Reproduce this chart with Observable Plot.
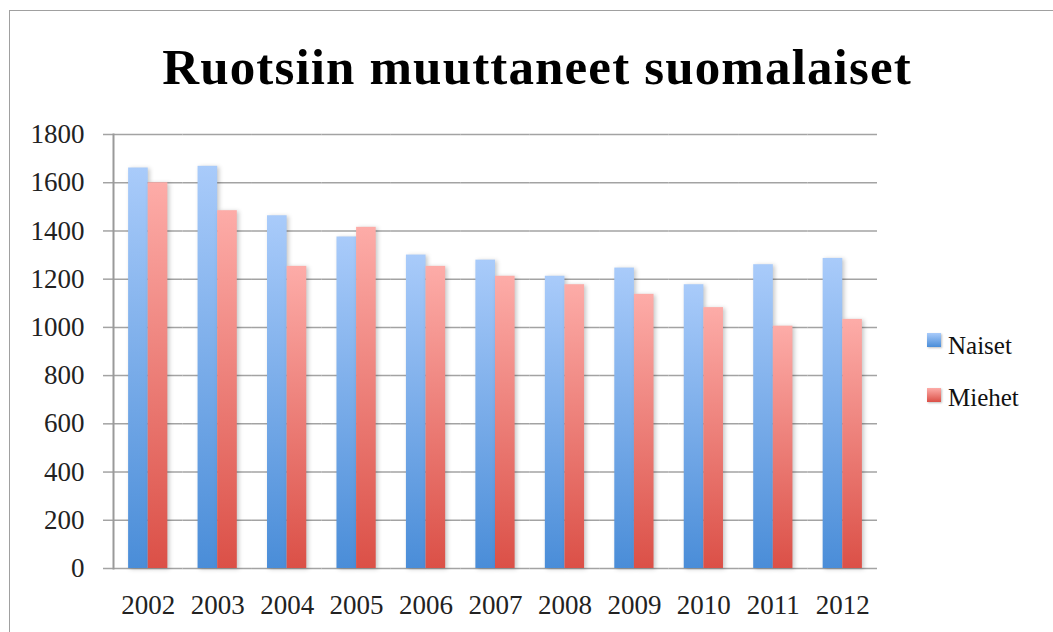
<!DOCTYPE html>
<html><head><meta charset="utf-8">
<script src="https://cdn.jsdelivr.net/npm/d3@7"></script>
<script src="https://cdn.jsdelivr.net/npm/@observablehq/plot@0.6"></script>
<style>
html,body{margin:0;padding:0;background:#fff;overflow:hidden;width:1053px;height:632px;position:relative}
#border{position:absolute;left:9px;top:10px;width:1200px;height:800px;border:1.5px solid #a0a0a0;box-sizing:border-box}
#title{position:absolute;left:0;width:1074px;top:41.6px;text-align:center;font:bold 51px/51px "Liberation Serif",serif;letter-spacing:1.15px;color:#000;white-space:nowrap}
#chart{position:absolute;left:0;top:110px}
.leg{position:absolute;left:927px;font:25px/25px "Liberation Serif",serif;color:#111;white-space:nowrap}
.sw{position:absolute;left:0;top:0;width:14px;height:14px;box-shadow:1px 1px 2px rgba(0,0,0,0.25)}
.lt{position:absolute;left:21px;top:0}
g[aria-label="bar"] rect{filter:drop-shadow(2px 1px 2px rgba(0,0,0,0.22))}
</style>
</head><body>
<svg width="0" height="0" style="position:absolute">
  <defs>
    <linearGradient id="gN" x1="0" y1="0" x2="0" y2="1">
      <stop offset="0" stop-color="#a9cbfa"/><stop offset="1" stop-color="#4a8dd8"/>
    </linearGradient>
    <linearGradient id="gM" x1="0" y1="0" x2="0" y2="1">
      <stop offset="0" stop-color="#fdaca8"/><stop offset="1" stop-color="#db5047"/>
    </linearGradient>
  </defs>
</svg>
<div id="border"></div>
<div id="title">Ruotsiin muuttaneet suomalaiset</div>
<div id="chart"></div>
<div class="leg" id="legN" style="top:333px"><div class="sw" style="background:linear-gradient(#a9cbfa,#4a8dd8)"></div><div class="lt" style="top:0px">Naiset</div></div>
<div class="leg" id="legM" style="top:388px"><div class="sw" style="background:linear-gradient(#fdaca8,#db5047)"></div><div class="lt" style="top:-3px">Miehet</div></div>
<script>
const years = ["2002","2003","2004","2005","2006","2007","2008","2009","2010","2011","2012"];
const naiset = [1661,1668,1463,1375,1300,1279,1212,1246,1177,1260,1286];
const miehet = [1600,1484,1253,1415,1253,1212,1177,1137,1082,1005,1033];
const series = ["Naiset","Miehet"];
const yTicks = [0,200,400,600,800,1000,1200,1400,1600,1800];

const rows = [];
years.forEach((y,i)=>{
  rows.push({year:y, series:"Naiset", value:naiset[i]});
  rows.push({year:y, series:"Miehet", value:miehet[i]});
});

const chart = Plot.plot({
  width:1053, height:522,
  marginLeft:113, marginRight:176, marginTop:24, marginBottom:64,
  style:{fontFamily:"'Liberation Serif', serif", background:"transparent", overflow:"visible"},
  fx:{domain:years, padding:0, round:false, label:null},
  x:{domain:series, paddingInner:0, paddingOuter:0.77, round:false, axis:null},
  y:{domain:[0,1800], axis:null},
  marks:[
    Plot.ruleY(yTicks, {stroke:"#a3a3a3", strokeWidth:1.5}),
    Plot.barY(rows.filter(d=>d.series==="Naiset"), {fx:"year", x:"series", y:"value", fill:"url(#gN)"}),
    Plot.barY(rows.filter(d=>d.series==="Miehet"), {fx:"year", x:"series", y:"value", fill:"url(#gM)"}),
    Plot.axisY({ticks:yTicks, tickSize:10, tickPadding:19, fontSize:27, stroke:"#a3a3a3", strokeWidth:1.5, fill:"#222", label:null, tickFormat:d=>String(d)}),
    Plot.axisFx({anchor:"bottom", tickSize:0, tickPadding:26, fontSize:27, fill:"#222", label:null}),
    Plot.frame({anchor:"left", facet:"super", stroke:"#9a9a9a", strokeWidth:2})
  ]
});
document.getElementById("chart").appendChild(chart);
</script>
</body></html>
